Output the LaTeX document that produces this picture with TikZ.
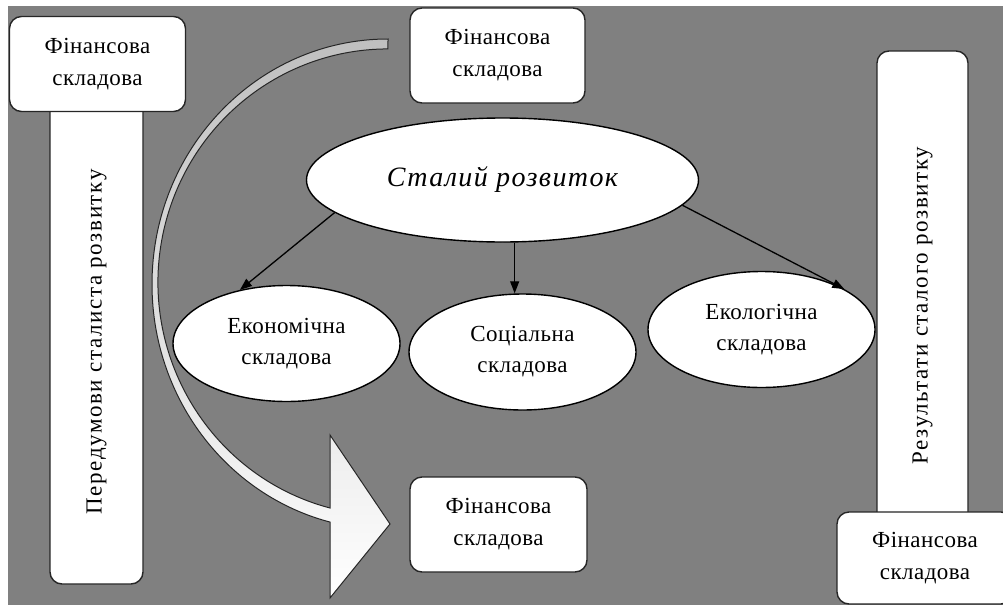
\documentclass[tikz,border=0pt]{standalone}
\usepackage{fontspec}
\setmainfont{Liberation Serif}[LetterSpace=2]
\newfontfamily\barfont{Liberation Serif}[LetterSpace=7]
\newfontfamily\keyfont{Liberation Serif}[LetterSpace=5]
\usepackage{tikz}
\usetikzlibrary{arrows.meta}
\usetikzlibrary{shapes}
\definecolor{bggray}{HTML}{808080}
\definecolor{edge}{HTML}{262626}
\tikzstyle{fin} = [rectangle, draw=edge, line width=1.4pt, rounded corners=12pt, fill=white, align=center, inner sep=0pt, font=\fontsize{23}{32}\selectfont]
\tikzstyle{bar} = [rectangle, draw=edge, line width=1.4pt, rounded corners=12pt, fill=white, rotate=90, inner sep=0pt, font=\barfont\fontsize{23}{28}\selectfont]
\tikzstyle{part} = [ellipse, draw=black, line width=1.4pt, fill=white, align=center, inner sep=0pt, minimum width=227pt, minimum height=116pt, font=\fontsize{23}{31}\selectfont]
\tikzstyle{lnk} = [draw, line width=1.3pt, -{Triangle[length=12pt,width=9pt]}]

\begin{document}
\begin{tikzpicture}
    [x=1pt,y=-1pt]
    \useasboundingbox (0,0) rectangle (1003,605);
    \clip (0,0) rectangle (1003,605);
    \fill[white] (0,0) rectangle (1003,605);
    \fill[bggray] (8,6) rectangle (1003,605);
    % side bars
    \node[bar, minimum width=484pt, minimum height=93pt] (pre) at (96.5,342) {Передумови сталиста розвитку};
    \node[bar, minimum width=509pt, minimum height=91pt] (res) at (922.5,305.5) {Результати сталого розвитку};
    \node[fin, minimum width=176pt, minimum height=95pt] (f1) at (97.5,64) {Фінансова\\складова};
    \node[fin, minimum width=175pt, minimum height=95pt] (f2) at (497.5,55.5) {Фінансова\\складова};
    \node[fin, minimum width=177pt, minimum height=95pt] (f3) at (498.5,524.5) {Фінансова\\складова};
    \node[fin, minimum width=176pt, minimum height=92pt] (f4) at (925,558) {Фінансова\\складова};
    % curved block arrow
    \draw[edge, line width=1pt, top color=black!25, middle color=white, bottom color=white]
      (388,39) arc[start angle=270, end angle=104.2, x radius=236, y radius=245.3]
      -- (330,598) -- (390,524) -- (330,435) -- (330,508)
      arc[start angle=104.6, end angle=270, x radius=230, y radius=233.3] -- cycle;
    % ellipses
    \node[part, minimum width=392pt, minimum height=124pt, font=\keyfont\fontsize{28}{32}\selectfont\itshape] (sr) at (502.5,180) {Сталий розвиток};
    \node[part] (ek) at (286.5,343.5) {Економічна\\складова};
    \node[part] (so) at (522.5,352) {Соціальна\\складова};
    \node[part] (el) at (761.5,329.5) {Екологічна\\складова};
    \draw[lnk] (sr.191) -- (ek.131);
    \draw[lnk] (sr.-79) -- (sr.-79 |- so.north);
    \draw[lnk] (sr.-8) -- (el.26);
\end{tikzpicture}
\end{document}
